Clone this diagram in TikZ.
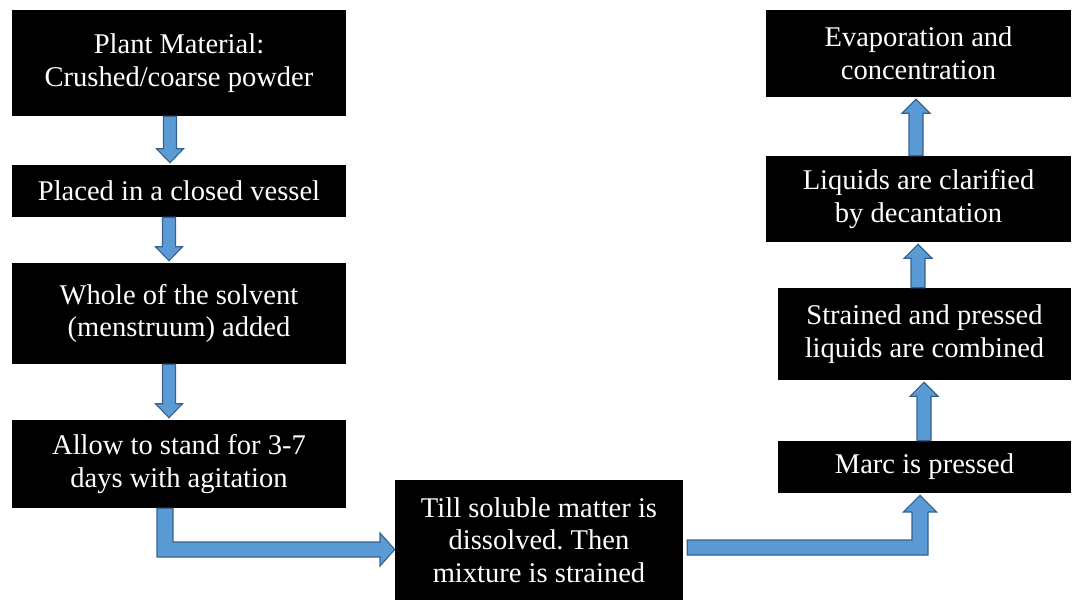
\documentclass[tikz,border=0pt]{standalone}
\usepackage{fontspec}
\setmainfont{Liberation Serif}
\usepackage{xcolor}
\definecolor{arrowblue}{RGB}{91,155,213}
\definecolor{arrowedge}{RGB}{55,98,140}
\usepackage{tikz}
\usetikzlibrary{calc,positioning}
\frenchspacing

% block arrow pointing down, shaft centre x = #1
\newcommand{\arrowdown}[3]{%
  \draw[blockarrow] ($(#1,0 |- #2.south)+(-6.5,0)$) -- ($(#1,0 |- #3.north)+(-6.5,-16)$)
    -- ($(#1,0 |- #3.north)+(-13.5,-16)$) -- ($(#1,0 |- #3.north)+(0,-2)$)
    -- ($(#1,0 |- #3.north)+(13.5,-16)$) -- ($(#1,0 |- #3.north)+(6.5,-16)$)
    -- ($(#1,0 |- #2.south)+(6.5,0)$) -- cycle;}
% block arrow pointing up, shaft centre x = #1
\newcommand{\arrowup}[3]{%
  \draw[blockarrow] ($(#1,0 |- #2.north)+(-7,0)$) -- ($(#1,0 |- #3.south)+(-7,16)$)
    -- ($(#1,0 |- #3.south)+(-14,16)$) -- ($(#1,0 |- #3.south)+(0,2)$)
    -- ($(#1,0 |- #3.south)+(14,16)$) -- ($(#1,0 |- #3.south)+(7,16)$)
    -- ($(#1,0 |- #2.north)+(7,0)$) -- cycle;}

\begin{document}
\begin{tikzpicture}[
      x=0.025cm, y=-0.025cm,
      stepbox/.style={rectangle, fill=black, text=white, align=center,
                      inner sep=2pt, font=\fontsize{20.3}{23.2}\selectfont},
      blockarrow/.style={draw=arrowedge, fill=arrowblue, line width=0.8pt, line join=miter}]
    \useasboundingbox (0,0) rectangle (1076,602);

    \node[stepbox, minimum width=334*0.025cm, minimum height=106*0.025cm] (plant) at (179,63)
      {Plant Material:\\Crushed/coarse powder};
    \node[stepbox, minimum width=334*0.025cm, minimum height=52*0.025cm] (vessel) at (179,191)
      {Placed in a closed vessel};
    \node[stepbox, minimum width=334*0.025cm, minimum height=101*0.025cm] (solvent) at (179,313.5)
      {Whole of the solvent\\(menstruum) added};
    \node[stepbox, minimum width=334*0.025cm, minimum height=88*0.025cm] (stand) at (179,464)
      {Allow to stand for 3-7\\days with agitation};
    \node[stepbox, minimum width=288*0.025cm, minimum height=120*0.025cm] (strain) at (539,540)
      {Till soluble matter is\\dissolved. Then\\mixture is strained};
    \node[stepbox, minimum width=293*0.025cm, minimum height=52*0.025cm] (marc) at (924.5,467)
      {Marc is pressed};
    \node[stepbox, minimum width=293*0.025cm, minimum height=92*0.025cm] (combine) at (924.5,334)
      {Strained and pressed\\liquids are combined};
    \node[stepbox, minimum width=305*0.025cm, minimum height=86*0.025cm] (decant) at (918.5,199)
      {Liquids are clarified\\by decantation};
    \node[stepbox, minimum width=305*0.025cm, minimum height=87*0.025cm] (evap) at (918.5,53.5)
      {Evaporation and\\concentration};

    \arrowdown{170}{plant}{vessel}
    \arrowdown{169}{vessel}{solvent}
    \arrowdown{169}{solvent}{stand}

    % elbow arrows along the bottom
    \draw[blockarrow] (157,0 |- stand.south) -- (157,557) -- (380,557) -- (380,566)
      -- (strain.west |- 0,549.5) -- (380,533) -- (380,542) -- (173,542)
      -- (173,0 |- stand.south) -- cycle;
    \draw[blockarrow] ($(strain.east |- 0,540)+(4,0)$) -- (912,540) -- (912,512) -- (903.5,512)
      -- ($(920,0 |- marc.south)+(0,2)$) -- (936.5,512) -- (928,512) -- (928,555)
      -- ($(strain.east |- 0,555)+(4,0)$) -- cycle;

    \arrowup{924}{marc}{combine}
    \arrowup{918}{combine}{decant}
    \arrowup{916}{decant}{evap}
\end{tikzpicture}
\end{document}
